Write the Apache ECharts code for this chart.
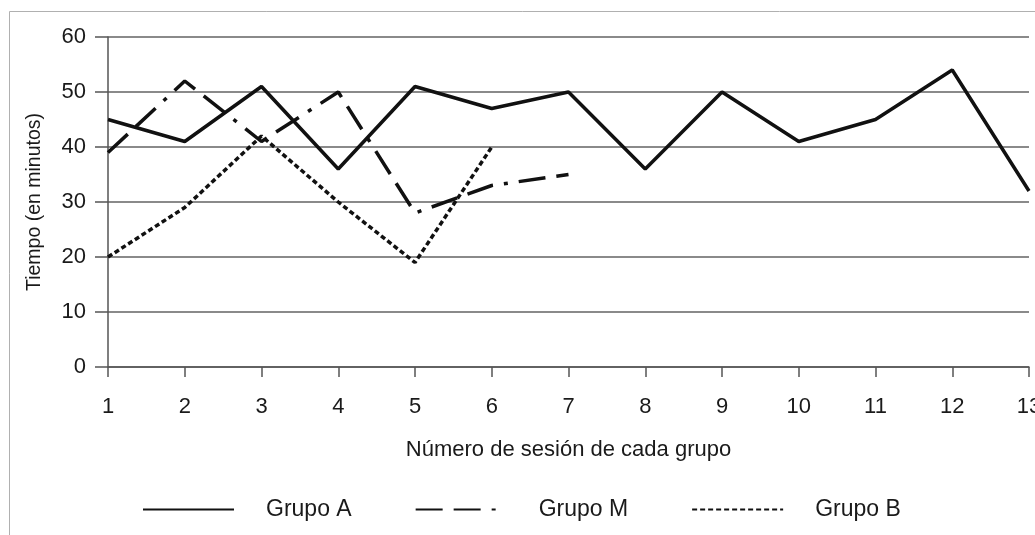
<!DOCTYPE html>
<html>
<head>
    <meta charset="utf-8">
    <title>Tiempo por sesión</title>
    <script src="https://cdn.jsdelivr.net/npm/echarts@6/dist/echarts.min.js"></script>
    <style>
        body { margin: 0; background: #fff; }
        #main { width: 1035px; height: 535px; }
    </style>
</head>
<body>
<div id="main"></div>
<script type="text/javascript">
    // datos
    var sesiones = ['1', '2', '3', '4', '5', '6', '7', '8', '9', '10', '11', '12', '13'];
    var grupoA = [45, 41, 51, 36, 51, 47, 50, 36, 50, 41, 45, 54, 32];
    var grupoM = [39, 52, 41, 50, 28, 33, 35];
    var grupoB = [20, 29, 42, 30, 19, 40];
    var yTicks = [0, 10, 20, 30, 40, 50, 60];

    var font = 'Liberation Sans, Arial, sans-serif';
    var myChart = echarts.init(document.getElementById('main'));

    var option = {
        animation: false,
        backgroundColor: '#fff',
        textStyle: { fontFamily: font, color: '#1a1a1a' },
        graphic: [{
            type: 'rect',
            shape: { x: 9.5, y: 11.5, width: 1100, height: 700 },
            style: { fill: 'none', stroke: '#b0b0b0', lineWidth: 1 },
            silent: true
        }],
        grid: { left: 108, right: 6, top: 37, bottom: 168, outerBoundsMode: 'none' },
        legend: {
            top: 493,
            left: 137,
            itemWidth: 91,
            itemHeight: 14,
            itemGap: 63,
            itemStyle: { opacity: 0 },
            textStyle: { fontSize: 23, color: '#1a1a1a', fontFamily: font, padding: [0, 0, 0, 27] },
            data: ['Grupo A', 'Grupo M', 'Grupo B']
        },
        xAxis: {
            type: 'category',
            data: sesiones,
            boundaryGap: false,
            name: 'Número de sesión de cada grupo',
            nameLocation: 'middle',
            nameGap: 72,
            nameTextStyle: { fontSize: 22, color: '#1a1a1a' },
            axisLine: { lineStyle: { color: '#555', width: 1.5 } },
            axisTick: { show: true, length: 10, lineStyle: { color: '#555', width: 1.5 } },
            axisLabel: { fontSize: 22, color: '#1a1a1a', margin: 29 },
            splitLine: { show: false }
        },
        yAxis: {
            type: 'value',
            min: yTicks[0],
            max: yTicks[yTicks.length - 1],
            interval: 10,
            name: 'Tiempo (en minutos)',
            nameLocation: 'middle',
            nameGap: 63,
            nameRotate: 90,
            nameTextStyle: { fontSize: 19.5, color: '#1a1a1a' },
            axisLine: { show: true, lineStyle: { color: '#555', width: 1.5 } },
            axisTick: { show: true, length: 13, lineStyle: { color: '#555', width: 1.5 } },
            axisLabel: { fontSize: 22, color: '#1a1a1a', margin: 22 },
            splitLine: { show: true, lineStyle: { color: '#8a8a8a', width: 2 } }
        },
        series: [{
            name: 'Grupo A',
            type: 'line',
            data: grupoA,
            symbol: 'none',
            lineStyle: { color: '#111', width: 3.5, type: 'solid' },
            itemStyle: { color: '#111' }
        }, {
            name: 'Grupo M',
            type: 'line',
            data: grupoM,
            symbol: 'none',
            lineStyle: { color: '#111', width: 3.5, type: [27, 11, 27, 11, 4, 11] },
            itemStyle: { color: '#111' }
        }, {
            name: 'Grupo B',
            type: 'line',
            data: grupoB,
            symbol: 'none',
            lineStyle: { color: '#111', width: 3.5, type: [5, 3] },
            itemStyle: { color: '#111' }
        }]
    };

    myChart.setOption(option);
</script>
</body>
</html>
